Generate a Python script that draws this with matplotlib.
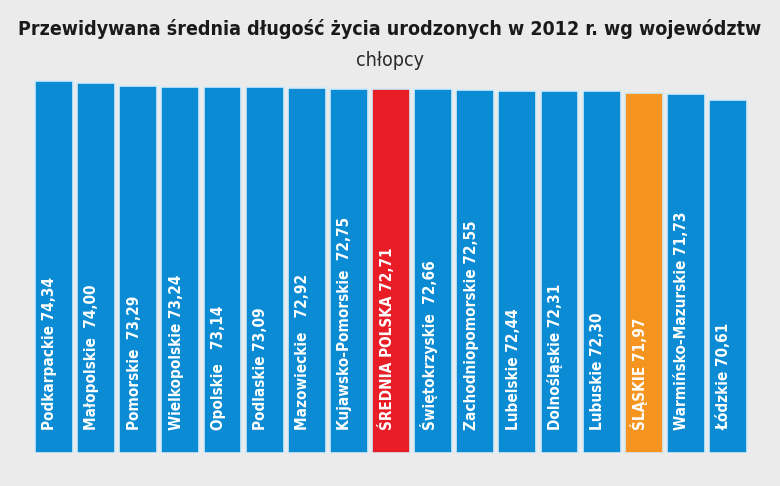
import matplotlib
matplotlib.use("Agg")
import matplotlib.pyplot as plt

names = ["Podkarpackie", "Małopolskie", "Pomorskie", "Wielkopolskie", "Opolskie",
         "Podlaskie", "Mazowieckie", "Kujawsko-Pomorskie", "ŚREDNIA POLSKA",
         "Świętokrzyskie", "Zachodniopomorskie", "Lubelskie", "Dolnośląskie",
         "Lubuskie", "ŚLĄSKIE", "Warmińsko-Mazurskie", "Łódzkie"]
values = [74.34, 74.00, 73.29, 73.24, 73.14, 73.09, 72.92, 72.75, 72.71,
          72.66, 72.55, 72.44, 72.31, 72.30, 71.97, 71.73, 70.61]
value_labels = ["74,34", "74,00", "73,29", "73,24", "73,14", "73,09", "72,92", "72,75", "72,71",
                "72,66", "72,55", "72,44", "72,31", "72,30", "71,97", "71,73", "70,61"]
gaps = [" ", "  ", "  ", " ", "   ", " ", "   ", "  ", " ", "  ", " ", " ", " ", " ", " ", " ", " "]

BLUE = "#0a8bd3"
RED = "#e81d25"
ORANGE = "#f5951f"
colors = [RED if n == "ŚREDNIA POLSKA" else ORANGE if n == "ŚLĄSKIE" else BLUE for n in names]

W, H = 780, 486
fig = plt.figure(figsize=(W / 100, H / 100), dpi=100, facecolor="#ebebeb")
ax_left, ax_right = 33, 749
ax_bottom, ax_top = 453, 70
ax = fig.add_axes([ax_left / W, (H - ax_bottom) / H, (ax_right - ax_left) / W, (ax_bottom - ax_top) / H])
ax.set_facecolor("none")
x = list(range(len(names)))
ax.bar(x, values, width=0.9, color=colors, edgecolor="#d2ebf8", linewidth=1.2)
ax.set_xlim(-0.5, len(names) - 0.5)
ax.set_ylim(0, (ax_bottom - ax_top) / 5.004)
ax.axis("off")

for i, (n, g, v) in enumerate(zip(names, gaps, value_labels)):
    ax.text(i - 0.1, 4.6, n + g + v, rotation=90, ha="center", va="bottom",
            color="white", fontsize=11, fontweight="bold", fontstretch="condensed",
            family="DejaVu Sans")

title = fig.text(0.5, 1 - 29 / H, "Przewidywana średnia długość życia urodzonych w 2012 r. wg województw",
                 ha="center", va="center", fontsize=16, fontweight="bold", color="#1a1a1a",
                 fontstretch="condensed", family="DejaVu Sans")
fig.canvas.draw()
w = title.get_window_extent().width
if w > 744:
    title.set_fontsize(16 * 744 / w)

fig.text(0.5, 1 - 60 / H, "chłopcy", ha="center", va="center", fontsize=14,
         color="#2a2a2a", fontstretch="condensed", family="DejaVu Sans")

fig.savefig("out.png", dpi=100, facecolor=fig.get_facecolor())
